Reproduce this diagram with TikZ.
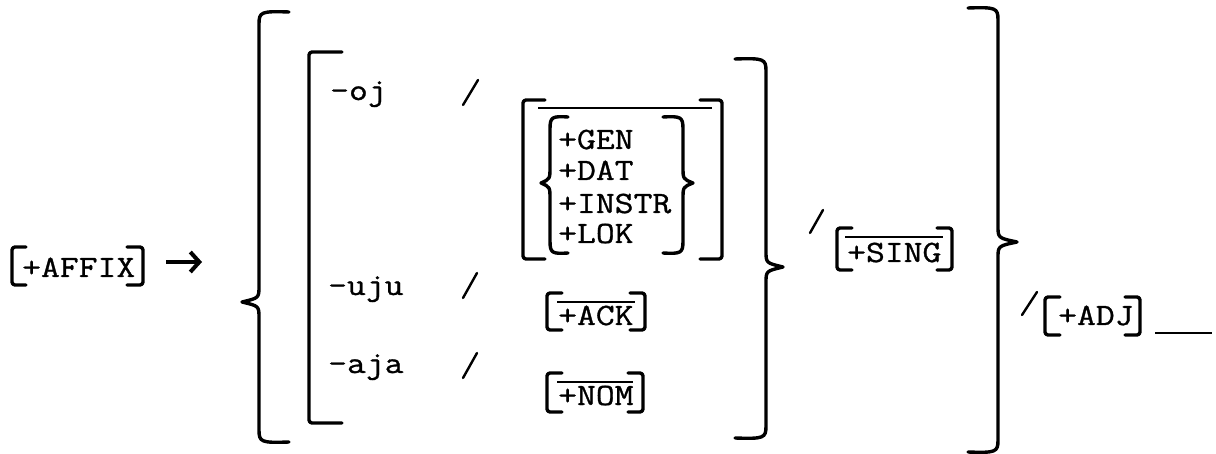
\documentclass[tikz,border=0pt]{standalone}
\usepackage{fontspec}
\usetikzlibrary{arrows.meta}
\newfontfamily\twfont[FakeBold=1,FakeStretch=1.18]{Latin Modern Mono}
\tikzset{
  txt/.style={font=\twfont\fontsize{31}{32}\selectfont, inner sep=0pt, anchor=base west},
  br/.style={line width=3.4pt, rounded corners=3pt, line cap=round, line join=round},
  bc/.style={line width=3.4pt, line cap=round, line join=round},
  ovl/.style={line width=1.8pt},
  sl/.style={line width=2.4pt, line cap=round},
}
% left bracket: x, top, bottom, hook
\newcommand{\lbrk}[4]{\draw[br] (#1+#4,#2) -- (#1,#2) -- (#1,#3) -- (#1+#4,#3);}
\newcommand{\rbrk}[4]{\draw[br] (#1-#4,#2) -- (#1,#2) -- (#1,#3) -- (#1-#4,#3);}
% brace: x, top, bottom, cusp y, cusp depth, hook
\newcommand{\lbrc}[6]{\draw[bc] (#1+#6,#2) .. controls (#1+2,#2-1) and (#1,#2) .. (#1,#2+12) -- (#1,#4-16) .. controls (#1,#4-4) .. (#1-#5,#4) .. controls (#1,#4+4) .. (#1,#4+16) -- (#1,#3-12) .. controls (#1,#3) and (#1+2,#3+1) .. (#1+#6,#3);}
\newcommand{\rbrc}[6]{\draw[bc] (#1-#6,#2) .. controls (#1-2,#2-1) and (#1,#2) .. (#1,#2+12) -- (#1,#4-16) .. controls (#1,#4-4) .. (#1+#5,#4) .. controls (#1,#4+4) .. (#1,#4+16) -- (#1,#3-12) .. controls (#1,#3) and (#1-2,#3+1) .. (#1-#6,#3);}
\begin{document}
\begin{tikzpicture}[x=1pt,y=-1pt]
\useasboundingbox (0,0) rectangle (1216,454);

% [+AFFIX] ->
\lbrk{12}{247}{285}{14}
\rbrk{143}{247}{285}{16}
\node[txt] (affix) at (22,277) {+AFFIX};
\coordinate (arrS) at (166,262);
\coordinate (arrE) at (202,262);
\draw[line width=4pt, -{Straight Barb[length=9pt,width=20pt,line width=4pt]}] (arrS) -- (arrE);

% big left brace
\lbrc{259}{12}{442}{302}{17}{30}
% inner left bracket
\lbrk{309}{52}{423}{33}

% alternatives
\node[txt] (oj) at (330,100) {-oj};
\node[txt] (uju) at (328,295) {-uju};
\node[txt] (aja) at (328,373) {-aja};
\draw[sl] (463,105) -- (478,80);
\draw[sl] (463,298) -- (477,273);
\draw[sl] (463,378) -- (477,353);

% middle box
\lbrk{523}{100}{259}{22}
\rbrk{722}{100}{259}{22}
\draw[ovl] (538,108) -- (712,108);
\lbrc{550}{117}{253}{183}{9}{18}
\rbrc{683}{117}{253}{183}{10}{20}
\node[txt] (gen) at (558,149) {+GEN};
\node[txt] (dat) at (558,180) {+DAT};
\node[txt] (instr) at (558,213) {+INSTR};
\node[txt] (lok) at (558,243) {+LOK};

% [+ACK]
\lbrk{547}{293}{330}{15}
\rbrk{645}{293}{330}{15}
\draw[ovl] (557,302) -- (635,302);
\node[txt] (ack) at (558,325) {+ACK};
% [+NOM]
\lbrk{547}{373}{412}{15}
\rbrk{643}{373}{412}{15}
\draw[ovl] (557,382) -- (633,382);
\node[txt] (nom) at (558,405) {+NOM};

% inner right brace
\rbrc{766}{59}{438}{267}{17}{31}

% / [+SING]
\draw[sl] (810,233) -- (823,210);
\lbrk{837}{228}{270}{15}
\rbrk{952}{228}{270}{15}
\draw[ovl] (845,237) -- (943,237);
\node[txt] (sing) at (847,262) {+SING};

% big right brace
\rbrc{998}{8}{452}{242}{19}{30}

% / [+ADJ] ___
\draw[sl] (1022,315) -- (1037,292);
\lbrk{1045}{297}{335}{15}
\rbrk{1140}{297}{335}{15}
\node[txt] (adj) at (1058,325) {+ADJ};
\draw[line width=2pt] (1155,333) -- (1212,333);
\end{tikzpicture}
\end{document}
